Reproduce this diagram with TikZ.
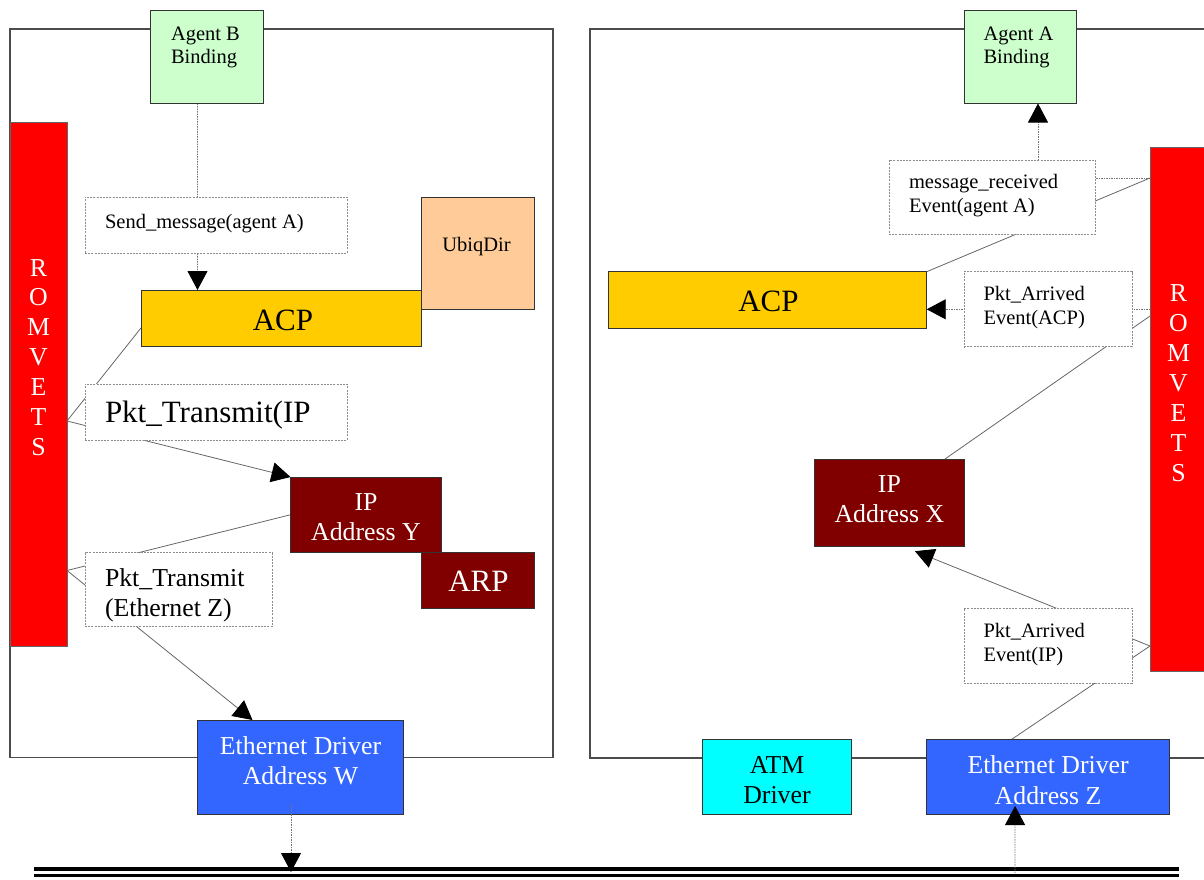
\documentclass[tikz,border=0pt]{standalone}
\usepackage{fontspec}
\setmainfont{Liberation Serif}
\usetikzlibrary{arrows.meta,calc}

\definecolor{bindgreen}{HTML}{CCFFCC}
\definecolor{acpyellow}{HTML}{FFCC00}
\definecolor{ubiqpeach}{HTML}{FFCC99}
\definecolor{ipmaroon}{HTML}{800000}
\definecolor{romred}{HTML}{FF0000}
\definecolor{ethblue}{HTML}{3366FF}
\definecolor{atmcyan}{HTML}{00FFFF}

\newcommand\fsmall{\fontsize{20.5}{23.3}\selectfont}
\newcommand\fmed{\fontsize{25.8}{30.3}\selectfont}
\newcommand\fromv{\fontsize{25.8}{29.9}\selectfont}
\newcommand\flarge{\fontsize{31}{36}\selectfont}
% fixed height for the first line of a block, so its baseline is 0.75em below the top
\newcommand\tstr{\rule{0pt}{.75em}}

\pgfdeclarelayer{back}
\pgfsetlayers{back,main}

\begin{document}
\begin{tikzpicture}[x=1pt,y=-1pt,
  box/.style={draw=black!80, line width=1pt, inner sep=0pt, outer sep=0pt, anchor=north west},
  evt/.style={box, draw=black!45, dash pattern=on 2pt off 1.2pt, fill=white},
  txt/.style={inner sep=0pt, outer sep=0pt},
  flow/.style={draw=black!55, line width=0.8pt, dash pattern=on 1.5pt off 1pt},
  link/.style={draw=black!60, line width=0.8pt},
  tip/.style={-{Triangle[length=19pt,width=20pt,color=black]}},
  frame/.style={draw=black!70, line width=1.2pt},
  bus/.style={draw=black, line width=3.7pt}
]
\useasboundingbox (0,0) rectangle (1204,879);

% ---------- host B (left) ----------
\node[box, fill=romred, draw=black!60, minimum width=57pt, minimum height=524pt] (romL) at (10,122) {};
\node[box, fill=bindgreen, minimum width=113pt, minimum height=93.5pt] (agB) at (150,10) {};
\node[evt, minimum width=262pt, minimum height=56pt] (sendMsg) at (85,197) {};
\node[box, fill=ubiqpeach, minimum width=112.3pt, minimum height=112pt] (ubiq) at (421.7,197) {};
\node[box, fill=acpyellow, minimum width=280.7pt, minimum height=56.7pt] (acpL) at (141,290) {};
\node[evt, minimum width=262pt, minimum height=56pt] (pktIP) at (85,384) {};
\node[box, fill=ipmaroon, minimum width=113pt, minimum height=55.5pt] (arp) at (421,552.5) {};
\node[box, fill=ipmaroon, minimum width=150.5pt, minimum height=75.5pt] (ipY) at (290.5,477) {};
\node[evt, minimum width=187pt, minimum height=74pt] (pktEth) at (85,552.7) {};
\node[box, fill=ethblue, minimum width=206pt, minimum height=94pt] (ethW) at (197.5,720) {};

\node[txt, font=\fsmall, align=left, anchor=north west] (agB-t) at (171,25.3) {\tstr Agent B\\Binding};
\node[txt, font=\fsmall, anchor=base west] (sendMsg-t) at (105,228) {Send\_message(agent A)};
\node[txt, font=\fsmall, anchor=base] (ubiq-t) at (476.5,251.7) {UbiqDir};
\node[txt, font=\flarge, anchor=base] (acpL-t) at (283,330) {ACP};
\node[txt, font=\flarge, anchor=base west] (pktIP-t) at (105,422.7) {Pkt\_Transmit(IP};
\node[txt, font=\fmed, text=white, align=center, anchor=north] (ipY-t) at (366,491.3) {\tstr IP\\Address Y};
\node[txt, font=\flarge, text=white, anchor=base] (arp-t) at (478.5,591.7) {ARP};
\node[txt, font=\fmed, align=left, anchor=north west] (pktEth-t) at (105,566.7) {\tstr Pkt\_Transmit\\(Ethernet Z)};
\node[txt, font=\fmed, text=white, align=center, anchor=north] (ethW-t) at (300.5,734.7) {\tstr Ethernet Driver\\Address W};
\node[txt, font=\fromv, text=white, align=center, anchor=north] (romL-t) at (38.5,256.7) {\tstr R\\O\\M\\V\\E\\T\\S};

% ---------- host A (right) ----------
\node[box, fill=romred, draw=black!60, minimum width=57pt, minimum height=524pt] (romR) at (1150,147) {};
\node[box, fill=bindgreen, minimum width=112.3pt, minimum height=93.5pt] (agA) at (964,10) {};
\node[evt, minimum width=206pt, minimum height=74.3pt] (msgRcv) at (889,160) {};
\node[box, fill=acpyellow, minimum width=318.3pt, minimum height=56.6pt] (acpR) at (608.4,271.7) {};
\node[evt, minimum width=168.3pt, minimum height=75pt] (pktACP) at (964,271.7) {};
\node[box, fill=ipmaroon, minimum width=150.7pt, minimum height=87.7pt] (ipX) at (814,459) {};
\node[evt, minimum width=168.3pt, minimum height=75.1pt] (pktIPr) at (964,608.3) {};
\node[box, fill=atmcyan, minimum width=149.2pt, minimum height=75pt] (atm) at (702.4,739.7) {};
\node[box, fill=ethblue, minimum width=242.8pt, minimum height=75pt] (ethZ) at (926.7,739.7) {};

\node[txt, font=\fsmall, align=left, anchor=north west] (agA-t) at (983.5,25.3) {\tstr Agent A\\Binding};
\node[txt, font=\fsmall, align=left, anchor=north west] (msgRcv-t) at (909,173.6) {\tstr message\_received\\Event(agent A)};
\node[txt, font=\flarge, anchor=base] (acpR-t) at (768.5,311.7) {ACP};
\node[txt, font=\fsmall, align=left, anchor=north west] (pktACP-t) at (983.5,285.6) {\tstr Pkt\_Arrived\\Event(ACP)};
\node[txt, font=\fmed, text=white, align=center, anchor=north] (ipX-t) at (889.4,473.3) {\tstr IP\\Address X};
\node[txt, font=\fsmall, align=left, anchor=north west] (pktIPr-t) at (983.5,622.6) {\tstr Pkt\_Arrived\\Event(IP)};
\node[txt, font=\fmed, align=center, anchor=north] (atm-t) at (777,753.9) {\tstr ATM\\Driver};
\node[txt, font=\fmed, text=white, align=center, anchor=north] (ethZ-t) at (1048.1,754.5) {\tstr Ethernet Driver\\Address Z};
\node[txt, font=\fromv, text=white, align=center, anchor=north] (romR-t) at (1178.5,282.4) {\tstr R\\O\\M\\V\\E\\T\\S};

% ---------- network bus ----------
\draw[bus] (34,869) -- (1178.5,869);
\draw[bus] (34,875.5) -- (1178.5,875.5);
\coordinate (busW) at (291,872);
\coordinate (busZ) at (1015,873);

% ---------- host frames and event links (behind the boxes) ----------
\begin{pgfonlayer}{back}
  \draw[frame] (10,29) rectangle (553,757.5);
  \draw[frame] (1206,29) -| (590,758) -- (1206,758);

  % host B
  \draw[flow,tip] ([xshift=-9pt]agB.south) -- ([xshift=-83.85pt]acpL.north);
  \draw[link] ([yshift=-37pt]romL.east) -- ([yshift=-9.6pt]acpL.west);
  \draw[link,tip] ([yshift=-37pt]romL.east) -- (ipY.north west);
  \draw[link] (ipY.west) -- ([yshift=-186.5pt]romL.east);
  \draw[link,tip] ([yshift=-186.5pt]romL.east) -- ([xshift=-48pt]ethW.north);

  % host A
  \draw[flow,tip] ([yshift=231pt]romR.west) -| ([xshift=17.85pt]agA.south);
  \draw[link] (acpR.north east) -- ([yshift=231pt]romR.west);
  \draw[flow,tip] ([yshift=99.7pt]romR.west) -- ([yshift=-9.3pt]acpR.east);
  \draw[link] ([xshift=55.65pt]ipX.north) -- ([yshift=93pt]romR.west);
  \draw[link,tip] ([yshift=-237pt]romR.west) -- ([xshift=25.6pt,yshift=-4.5pt]ipX.south);
  \draw[link] ([xshift=-37pt]ethZ.north) -- ([yshift=-237pt]romR.west);
\end{pgfonlayer}

% drivers to and from the bus
\draw[flow,tip] ([xshift=-9.5pt,yshift=10pt]ethW.south) -- (busW);
\draw[flow,tip] (busZ) -- ([xshift=-33pt,yshift=8.7pt]ethZ.south);
\end{tikzpicture}
\end{document}
